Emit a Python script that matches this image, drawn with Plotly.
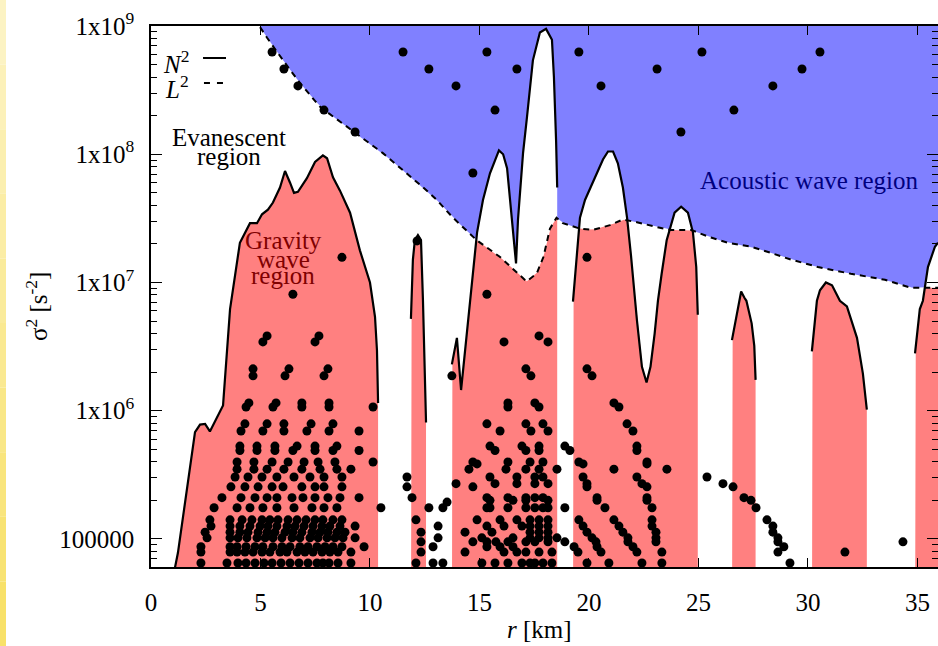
import numpy as np
import plotly.graph_objects as go

# ---------------- data ----------------
# N^2 (solid) – separate branches, r in km, value in s^-2
N2_A_R = [1.08, 1.23, 2.01, 2.24, 2.47, 2.69, 3.29, 3.38, 3.61, 4.06, 4.52, 4.84, 5.07, 5.34, 5.57,
          5.89, 6.12, 6.35, 6.53, 6.71, 7.12, 7.49, 7.85, 8.04, 8.31, 8.63, 9.09, 9.54, 10.00, 10.23,
          10.32, 10.37]
N2_A = [5.8e4, 7.8e4, 6.8e5, 7.8e5, 7.9e5, 6.9e5, 1.1e6, 1.74e6, 6.2e6, 2.04e7, 2.9e7, 2.9e7, 3.4e7,
        3.7e7, 4.2e7, 5.5e7, 7.4e7, 6.0e7, 5.0e7, 5.1e7, 6.5e7, 8.7e7, 9.8e7, 9.3e7, 6.6e7, 5.2e7,
        3.5e7, 1.78e7, 1.0e7, 5.4e6, 2.95e6, 1.15e6]
N2_B_R = [11.87, 11.96, 12.05, 12.19, 12.33, 12.42, 12.56]
N2_B = [5.2e6, 1.51e7, 2.14e7, 2.34e7, 2.14e7, 7.2e6, 8.1e5]
N2_C_R = [13.74, 13.97, 14.16, 14.43, 14.66, 14.89, 15.16, 15.48, 15.89, 16.08, 16.26, 16.48, 16.67,
          16.76, 16.99, 17.17, 17.44, 17.76, 18.04, 18.31, 18.40, 18.50, 18.55]
N2_C = [2.3e6, 3.7e6, 1.45e6, 4.1e6, 1.0e7, 2.45e7, 4.4e7, 7.1e7, 1.07e8, 1.0e8, 7.8e7, 3.1e7, 1.41e7,
        3.1e7, 1.02e8, 1.95e8, 5.4e8, 8.9e8, 9.5e8, 7.8e8, 4.0e8, 1.26e8, 5.5e7]
N2_D_R = [19.27, 19.45, 19.59, 19.82, 20.18, 20.64, 20.87, 21.10, 21.32, 21.55, 21.74, 21.92, 22.19,
          22.42, 22.63, 22.81, 23.00, 23.15, 23.32, 23.55, 23.91, 24.21, 24.52, 24.75, 24.90, 24.96,
          24.97]
N2_D = [7.1e6, 1.7e7, 3.2e7, 4.4e7, 6.0e7, 9.1e7, 1.05e8, 1.05e8, 8.5e7, 5.5e7, 3.2e7, 1.62e7, 5.1e6,
        2.2e6, 1.66e6, 2.2e6, 4.0e6, 7.2e6, 1.17e7, 2.14e7, 3.5e7, 3.9e7, 3.5e7, 2.45e7, 1.32e7,
        7.2e6, 5.6e6]
N2_E_R = [26.53, 26.76, 26.95, 27.10, 27.19, 27.43, 27.55, 27.61]
N2_E = [3.55e6, 5.75e6, 8.5e6, 7.6e6, 7.2e6, 4.8e6, 3.2e6, 1.74e6]
N2_F_R = [30.18, 30.41, 30.55, 30.82, 31.10, 31.46, 31.78, 32.24, 32.51, 32.69]
N2_F = [2.9e6, 7.2e6, 8.7e6, 1.0e7, 9.5e6, 7.2e6, 6.5e6, 3.7e6, 1.95e6, 1.02e6]
N2_G_R = [34.89, 35.11, 35.25, 35.48, 35.80, 35.94]
N2_G = [2.8e6, 6.2e6, 7.2e6, 1.32e7, 1.9e7, 2.04e7]

# L^2 (dashed)
L2_R = [4.98, 5.30, 6.03, 6.80, 7.72, 9.32, 10.59, 12.60, 13.05, 13.79, 14.57, 14.87, 15.94, 16.70,
        17.15, 17.61, 17.92, 18.22, 18.52, 18.81, 19.59, 20.18, 20.96, 21.55, 22.19, 23.11, 23.70,
        24.66, 25.57, 26.35, 27.40, 28.31, 29.22, 30.46, 31.96, 33.52, 34.70, 35.94]
L2 = [9.8e8, 8.1e8, 5.4e8, 3.6e8, 2.34e8, 1.48e8, 1.02e8, 5.2e7, 4.4e7, 3.2e7, 2.4e7, 2.14e7, 1.58e7,
      1.2e7, 1.02e7, 1.17e7, 1.58e7, 2.63e7, 3.2e7, 2.9e7, 2.63e7, 2.57e7, 2.8e7, 3.1e7, 2.95e7,
      2.7e7, 2.57e7, 2.57e7, 2.24e7, 2.04e7, 1.9e7, 1.7e7, 1.51e7, 1.32e7, 1.17e7, 1.05e7, 9.1e6, 9.1e6]

# eigenmode frequencies: (sigma^2, [r positions])
DOT_ROWS = [
    (6.27e8, [5.53, 11.51, 15.34, 19.54, 25.16, 30.55]),
    (4.62e8, [6.07, 12.69, 16.71, 23.11, 29.73]),
    (3.41e8, [6.71, 13.93, 20.55, 28.40]),
    (2.21e8, [7.90, 15.71, 26.62]),
    (1.49e8, [9.32, 24.20]),
    (7.14e7, [14.70]),
    (2.11e7, [12.15]),
    (1.57e7, [8.72, 19.91]),
    (8.1e6, [6.48, 15.34]),
    (3.83e6, [5.30, 7.67, 17.72]),
    (3.44e6, [5.11, 7.49, 16.12, 18.13]),
    (2.12e6, [4.66, 6.30, 8.08, 17.12, 19.91]),
    (1.87e6, [4.66, 6.12, 7.90, 13.74, 17.35, 20.14]),
    (1.15e6, [4.47, 5.71, 6.89, 8.13, 16.30, 17.53, 21.14]),
    (1.07e6, [4.34, 5.57, 6.89, 8.13, 10.14, 16.30, 17.72, 21.37]),
    (7.9e5, [4.29, 5.30, 6.07, 7.31, 8.31, 15.34, 17.12, 17.90, 21.74]),
    (6.95e5, [4.11, 5.11, 6.07, 7.12, 8.13, 9.50, 15.94, 17.35, 18.13, 22.01]),
    (5.3e5, [4.06, 4.84, 5.66, 6.67, 7.49, 8.49, 15.48, 16.94, 17.72, 18.90, 22.19]),
    (4.9e5, [4.06, 4.84, 5.66, 6.48, 7.49, 8.31, 9.50, 15.71, 17.12, 17.72, 19.13, 22.19]),
    (3.98e5, [3.93, 4.70, 5.53, 6.26, 6.99, 7.63, 8.40, 10.14, 14.70, 16.30, 17.31, 17.90, 19.54, 22.65]),
    (3.85e5, [14.89, 19.73, 22.65]),
    (3.5e5, [3.93, 4.70, 5.30, 6.07, 6.89, 7.72, 8.49, 9.13, 14.52, 16.21, 17.12, 17.72, 18.54, 21.14,
             23.56]),
    (3.04e5, [3.84, 4.43, 5.07, 5.75, 6.53, 7.26, 7.90, 8.72, 11.69, 15.48, 16.71, 17.53, 17.90, 19.73,
              22.19, 25.39]),
    (2.7e5, [13.93, 15.71, 16.71, 17.53, 18.13, 19.91, 22.42, 26.12]),
    (2.55e5, [3.65, 4.29, 4.89, 5.53, 6.03, 6.89, 7.49, 7.90, 8.72, 11.69, 14.70, 19.91, 22.65, 26.58]),
    (2.1e5, [3.24, 4.11, 4.75, 5.30, 5.75, 6.44, 6.94, 7.49, 8.08, 8.63, 9.50, 11.92, 15.34, 16.30,
             17.12, 17.53, 17.90, 20.37, 22.65, 27.08]),
    (2.0e5, [15.48, 16.53, 17.12, 18.13, 20.37, 22.65, 27.40]),
    (1.94e5, [13.52]),
    (1.75e5, [2.88, 3.93, 4.52, 5.11, 5.75, 6.53, 7.35, 7.90, 8.49, 10.50, 12.69, 13.33, 15.34, 15.48,
              16.30, 17.12, 17.53, 17.90, 18.13, 18.90, 20.73, 22.88, 27.63]),
    (1.41e5, [2.69, 3.61, 4.16, 4.61, 5.07, 5.43, 5.80, 6.26, 6.67, 7.08, 7.49, 7.85, 8.31, 8.72, 12.10,
              14.89, 15.94, 16.71, 17.31, 17.72, 18.13, 19.54, 21.14, 22.88, 28.13]),
    (1.26e5, [2.74, 3.61, 4.06, 4.52, 4.98, 5.34, 5.75, 6.21, 6.58, 6.99, 7.40, 7.81, 8.17, 8.63, 9.32,
              13.11, 15.34, 16.12, 16.94, 17.31, 17.72, 18.13, 19.73, 21.37, 22.88, 28.40]),
    (1.13e5, [2.47, 3.61, 4.06, 4.43, 4.89, 5.30, 5.66, 6.12, 6.48, 6.89, 7.35, 7.72, 8.08, 8.49, 8.86,
              12.33, 14.34, 15.57, 17.31, 17.72, 18.13, 19.91, 21.55, 23.06, 28.40]),
    (1.02e5, [2.56, 3.61, 3.97, 4.38, 4.84, 5.21, 5.57, 5.98, 6.44, 6.80, 7.26, 7.63, 8.04, 8.40, 8.77,
              9.32, 13.11, 15.11, 16.53, 17.31, 17.72, 18.13, 18.54, 20.14, 21.78, 23.06, 28.63]),
    (9.5e4, [12.33, 14.70, 15.34, 15.75, 16.30, 17.12, 17.53, 18.13, 18.90, 20.32, 21.78, 23.06, 28.63,
             34.34]),
    (8.7e4, [2.28, 3.61, 3.93, 4.34, 4.75, 5.11, 5.57, 5.98, 6.35, 6.80, 7.17, 7.58, 7.95, 8.31, 8.72,
             9.73, 12.88, 15.34, 15.94, 16.53, 19.32, 20.37, 22.01, 28.90]),
    (7.9e4, [2.28, 3.61, 3.93, 4.29, 4.66, 5.07, 5.43, 5.89, 6.21, 6.67, 7.03, 7.40, 7.81, 8.17, 8.54,
             9.13, 12.33, 14.34, 16.12, 16.71, 17.12, 17.72, 18.31, 19.50, 20.55, 22.19, 23.33, 28.63,
             31.69]),
    (6.5e4, [2.28, 3.47, 3.97, 4.34, 4.75, 5.16, 5.53, 5.94, 6.35, 6.76, 7.17, 7.58, 7.85, 8.13, 8.54,
             9.13, 12.10, 12.88, 13.33, 15.11, 15.71, 16.30, 16.94, 17.31, 17.53, 17.90, 18.31, 19.91,
             20.91, 22.42, 23.33, 29.18]),
]

X_TICKS = [0, 5, 10, 15, 20, 25, 30, 35]
Y_TICKS = [1e5, 1e6, 1e7, 1e8, 1e9]
Y_TICK_TEXT = ["100000", "1x10<sup>6</sup>", "1x10<sup>7</sup>", "1x10<sup>8</sup>", "1x10<sup>9</sup>"]
X_RANGE = [0, 35.94]
Y_RANGE_LOG = [4.7814, 9.0]

# ---------------- derived geometry ----------------
SEGMENTS = [(N2_A_R, N2_A), (N2_B_R, N2_B), (N2_C_R, N2_C), (N2_D_R, N2_D),
            (N2_E_R, N2_E), (N2_F_R, N2_F), (N2_G_R, N2_G)]
FLOOR = 1e4
CEIL = 1e10


def logi(q, r, v):
    return 10 ** np.interp(q, r, np.log10(v))


def l2_at(q):
    q = np.asarray(q, dtype=float)
    out = logi(q, L2_R, L2)
    return np.where(q < L2_R[0], np.inf, out)


# acoustic region: above max(N2, L2)
bx, by = [], []
cur = L2_R[0]
for sr, sv in SEGMENTS:
    s0, s1 = sr[0], sr[-1]
    if s1 <= cur:
        continue
    if s0 > cur:
        g = np.linspace(cur, s0, 80)
        bx += list(g)
        by += list(logi(g, L2_R, L2))
    g = np.linspace(max(s0, cur), min(s1, L2_R[-1]), 300)
    bx += list(g)
    by += list(np.maximum(logi(g, sr, sv), logi(g, L2_R, L2)))
    cur = min(s1, L2_R[-1])
if cur < L2_R[-1]:
    g = np.linspace(cur, L2_R[-1], 80)
    bx += list(g)
    by += list(logi(g, L2_R, L2))
blue_x = bx + [L2_R[-1], L2_R[0]]
blue_y = by + [CEIL, CEIL]

fig = go.Figure()
fig.add_trace(go.Scatter(x=blue_x, y=blue_y, mode="lines", fill="toself",
                         fillcolor="#8080ff", line=dict(width=0), hoverinfo="skip",
                         showlegend=False))

# gravity region: below min(N2, L2)
for sr, sv in SEGMENTS:
    g = np.linspace(sr[0], sr[-1], 400)
    top = np.minimum(logi(g, sr, sv), l2_at(g))
    fig.add_trace(go.Scatter(x=[sr[0]] + list(g) + [sr[-1]], y=[FLOOR] + list(top) + [FLOOR],
                             mode="lines", fill="toself", fillcolor="#ff8080",
                             line=dict(width=0), hoverinfo="skip", showlegend=False))

# N2 solid curve
nx, ny = [], []
for sr, sv in SEGMENTS:
    nx += list(sr) + [None]
    ny += list(sv) + [None]
fig.add_trace(go.Scatter(x=nx, y=ny, mode="lines", line=dict(color="black", width=2.2),
                         showlegend=False, hoverinfo="skip"))
# L2 dashed curve
fig.add_trace(go.Scatter(x=L2_R, y=L2, mode="lines",
                         line=dict(color="black", width=2, dash="6px,5px"),
                         showlegend=False, hoverinfo="skip"))

# modes
dot_r, dot_s = [], []
for s, rs in DOT_ROWS:
    dot_r += rs
    dot_s += [s] * len(rs)
fig.add_trace(go.Scatter(x=dot_r, y=dot_s, mode="markers",
                         marker=dict(color="black", size=9, line=dict(width=0)),
                         showlegend=False, hoverinfo="skip"))

# dummy traces for tick-only overlay axes
for ax in ["y2", "y3", "y4"]:
    fig.add_trace(go.Scatter(x=[None], y=[None], yaxis=ax, showlegend=False, hoverinfo="skip"))

FONT = "Liberation Serif"
FS = 25
minor = [k * 10 ** d for d in range(4, 9) for k in range(2, 10)
         if Y_RANGE_LOG[0] <= np.log10(k * 10 ** d) <= Y_RANGE_LOG[1]]

common_y = dict(type="log", range=Y_RANGE_LOG, showgrid=False, zeroline=False,
                ticks="inside", tickcolor="black", tickwidth=1)

fig.update_layout(
    width=938, height=646,
    margin=dict(l=151, r=0, t=26, b=79),
    paper_bgcolor="white", plot_bgcolor="white",
    font=dict(family=FONT, size=FS, color="black"),
    xaxis=dict(range=X_RANGE, tickvals=X_TICKS, ticks="inside", ticklen=9, tickwidth=1,
               tickcolor="black", showline=True, linecolor="black", linewidth=1.5,
               mirror="ticks", showgrid=False, zeroline=False,
               tickfont=dict(family=FONT, size=FS), ticklabelstandoff=12),
    yaxis=dict(**common_y, tickvals=Y_TICKS, ticktext=Y_TICK_TEXT, ticklen=11,
               showline=True, linecolor="black", linewidth=1.5,
               tickfont=dict(family=FONT, size=FS), ticklabelstandoff=10),
    yaxis2=dict(**common_y, overlaying="y", side="left", tickvals=minor, ticklen=6,
                showticklabels=False, showline=False),
    yaxis3=dict(**common_y, overlaying="y", side="right", anchor="x", tickvals=Y_TICKS, ticklen=11,
                showticklabels=False, showline=False),
    yaxis4=dict(**common_y, overlaying="y", side="right", anchor="x", tickvals=minor, ticklen=6,
                showticklabels=False, showline=False),
)

ann = []
ann.append(dict(x=3.55, y=8.134, text="Evanescent", showarrow=False, font=dict(size=FS)))
ann.append(dict(x=3.55, y=7.986, text="region", showarrow=False, font=dict(size=FS)))
for txt, yy in [("Gravity", 7.331), ("wave", 7.183), ("region", 7.058)]:
    ann.append(dict(x=6.05, y=yy, text=txt, showarrow=False, font=dict(size=FS, color="#800000")))
ann.append(dict(x=30.05, y=7.799, text="Acoustic wave region", showarrow=False,
                font=dict(size=FS, color="#000080")))
ann.append(dict(xref="paper", yref="paper", x=0.0508, y=0.9668, xanchor="right",
                text="<i>N</i><sup>2</sup>", showarrow=False, font=dict(size=FS)))
ann.append(dict(xref="paper", yref="paper", x=0.0508, y=0.9205, xanchor="right",
                text="<i>L</i><sup>2</sup>", showarrow=False, font=dict(size=FS)))
ann.append(dict(xref="paper", yref="paper", x=-0.168, y=0.482, textangle=-90,
                text="σ<sup>2</sup> [s<sup>-2</sup>]", showarrow=False, font=dict(size=FS)))
ann.append(dict(xref="paper", yref="paper", x=0.494, y=-0.145,
                text="<i>r</i> [km]", showarrow=False, font=dict(size=FS)))
fig.update_layout(annotations=ann)

shapes = [
    dict(type="line", xref="paper", yref="paper", x0=0.0661, x1=0.0953, y0=0.9409, y1=0.9409,
         line=dict(color="black", width=2)),
    dict(type="line", xref="paper", yref="paper", x0=0.0673, x1=0.0927, y0=0.8946, y1=0.8946,
         line=dict(color="black", width=2, dash="6px,7px")),
]
# yellow page edge on the left
top_c = np.array([253, 245, 200])
bot_c = np.array([248, 224, 100])
n = 10
y_lo, y_hi = -79 / 541, 1 + 26 / 541
for i in range(n):
    c = top_c + (bot_c - top_c) * (i + 0.5) / n
    shapes.append(dict(type="rect", xref="paper", yref="paper", layer="below",
                       x0=-151 / 787, x1=-145 / 787,
                       y0=y_hi - (y_hi - y_lo) * (i + 1) / n, y1=y_hi - (y_hi - y_lo) * i / n,
                       fillcolor="rgb(%d,%d,%d)" % tuple(c.astype(int)), line=dict(width=0)))
fig.update_layout(shapes=shapes)

fig.write_html("out.html", config={"displayModeBar": False},
               post_script="document.body.style.margin='0px';")
